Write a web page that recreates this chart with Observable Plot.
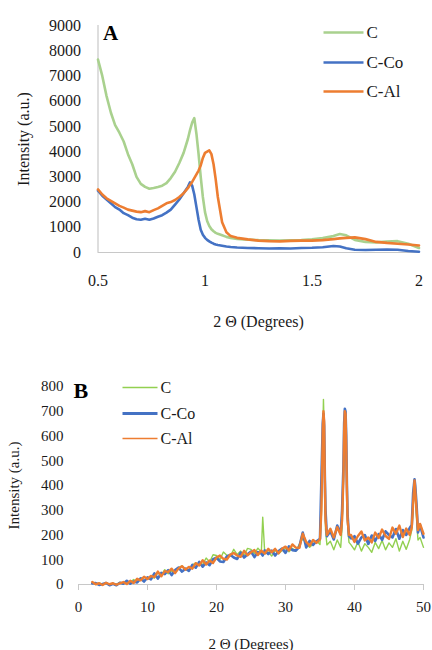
<!DOCTYPE html>
<html><head><meta charset="utf-8">
<script src="https://cdn.jsdelivr.net/npm/d3@7"></script>
<script src="https://cdn.jsdelivr.net/npm/@observablehq/plot@0.6"></script>
<style>
html,body{margin:0;padding:0;background:#fff;}
#wrap{position:relative;width:432px;height:650px;overflow:hidden;}
#wrap svg{display:block;}
#wrap svg, #wrap svg text{font-family:"Liberation Serif","Times New Roman",serif !important;}
</style></head><body><div id="wrap"></div>
<script>
// ---------- Series names ----------
const seriesNames = ["C", "C-Co", "C-Al"];

// ---------- Panel A (small-angle) ----------
const aX = [0.50,0.52,0.54,0.56,0.58,0.60,0.62,0.64,0.66,0.68,0.70,0.72,0.74,0.76,0.78,0.80,0.82,0.84,0.86,0.88,0.90,0.92,0.93,0.94,0.95,0.96,0.97,0.98,0.99,1.00,1.01,1.02,1.03,1.04,1.05,1.06,1.08,1.10,1.12,1.15,1.20,1.25,1.30,1.35,1.40,1.45,1.50,1.55,1.60,1.63,1.66,1.70,1.75,1.80,1.85,1.90,1.95,2.00];
const aC = [7650,7000,6200,5550,5050,4750,4400,3900,3500,3000,2720,2600,2530,2560,2600,2650,2750,2950,3200,3550,3950,4500,4850,5150,5330,4700,3900,3000,2200,1600,1250,1050,920,840,780,740,680,620,580,540,510,490,480,470,480,490,520,570,650,730,680,500,420,400,430,450,350,180];
const aCCo = [2450,2250,2100,1950,1800,1700,1560,1480,1380,1320,1300,1340,1300,1350,1420,1480,1580,1700,1900,2100,2350,2600,2780,2650,2300,1800,1300,900,700,580,500,440,390,350,320,300,270,240,220,200,180,170,160,170,160,180,190,210,260,240,170,110,100,110,120,110,60,30];
const aCAl = [2500,2300,2150,2050,1950,1850,1780,1700,1660,1620,1600,1640,1600,1680,1750,1850,1950,2000,2080,2200,2350,2550,2680,2800,2950,3100,3250,3450,3750,3950,4000,4050,3900,3500,2900,2200,1200,800,650,580,520,470,450,440,460,470,470,490,530,560,580,600,530,420,380,350,320,280];
const aXTicks = [0.5, 1, 1.5, 2];
const aYTicks = [0,1000,2000,3000,4000,5000,6000,7000,8000,9000];

// ---------- Panel B (wide-angle) ----------
const bX = [2,2.5,3,3.5,4,4.5,5,5.5,6,6.5,7,7.5,8,8.5,9,9.5,10,10.5,11,11.5,12,12.5,13,13.5,14,14.5,15,15.5,16,16.5,17,17.5,18,18.5,19,19.5,20,20.5,21,21.5,22,22.5,23,23.5,24,24.5,25,25.5,26,26.5,26.7,27,27.5,28,28.5,29,29.5,30,30.5,31,31.5,32,32.5,33,33.5,34,34.5,35,
  35.2,35.4,35.5,35.6,35.7,35.8,36,
  36.5,37,37.5,38,38.2,
  38.4,38.5,38.6,38.7,38.8,38.9,39,39.2,
  39.5,40,40.5,41,41.5,42,42.5,43,43.5,44,44.5,45,45.5,46,46.5,47,47.5,48,
  48.3,48.5,48.7,48.8,49,49.2,
  49.5,50];
const bC = [8,0,6,0,6,0,3,1,9,2,12,10,20,9,23,31,23,33,26,48,39,60,43,58,47,68,75,61,58,79,87,79,81,107,91,120,117,100,131,118,114,142,121,135,117,146,142,125,147,131,272,124,132,115,138,124,137,145,132,146,135,162,185,164,150,164,177,162,
  280,600,748,640,380,220,160,
  175,140,180,150,230,
  420,600,690,680,540,360,240,170,
  160,140,172,135,165,150,130,170,145,178,140,168,150,185,135,175,142,182,
  220,310,400,360,260,180,
  190,150];
const bCCo = [4,6,-2,2,6,-3,3,-3,7,3,15,3,12,8,25,12,29,21,45,24,47,42,58,38,58,68,52,64,55,79,68,91,72,89,78,102,108,93,91,113,120,109,103,129,109,122,133,111,131,125,117,138,123,137,117,135,145,128,154,139,137,152,210,150,176,160,175,185,
  420,650,690,640,440,300,195,
  215,182,238,205,300,
  480,650,710,700,600,400,280,195,
  186,195,165,190,200,164,198,176,204,180,215,200,190,224,185,220,200,228,
  240,370,425,400,320,210,
  240,190];
const bCAl = [10,1,5,-2,7,1,5,-1,5,10,2,15,6,23,17,31,22,35,30,52,33,54,50,64,46,65,74,60,71,64,86,77,98,81,97,87,109,117,104,101,121,127,117,112,136,118,130,139,119,137,131,125,144,130,144,126,144,153,138,162,149,148,205,172,157,180,168,182,
  300,620,700,660,420,260,200,
  225,190,232,200,260,
  440,620,700,690,560,380,260,200,
  200,172,196,214,178,190,170,210,188,222,196,184,230,205,238,192,226,200,
  230,330,420,380,300,220,
  245,205];
const bXTicks = [0,10,20,30,40,50];
const bYTicks = [0,100,200,300,400,500,600,700,800];

// ---------- build ----------
for (const [nm, xs, ys] of [["aC",aX,aC],["aCCo",aX,aCCo],["aCAl",aX,aCAl],["bC",bX,bC],["bCCo",bX,bCCo],["bCAl",bX,bCAl]]) {
  if (xs.length !== ys.length) console.error("length mismatch", nm, xs.length, ys.length);
}
const rows = (xs, ys, s) => xs.map((x, i) => ({x, y: ys[i], s}));
const dataA = [...rows(aX, aC, "C"), ...rows(aX, aCCo, "C-Co"), ...rows(aX, aCAl, "C-Al")];
const dataB = [...rows(bX, bC, "C"), ...rows(bX, bCCo, "C-Co"), ...rows(bX, bCAl, "C-Al")];

const FONT = '"Liberation Serif","Times New Roman",serif';
const colorsA = ["#A9D18E", "#4472C4", "#ED7D31"];
const colorsB = ["#92D050", "#4472C4", "#ED7D31"];
const TXT = "#1a1a1a";
const AXC = "#c8c8c8";

const lineSym = {draw(ctx, size) { const r = Math.sqrt(size / Math.PI); ctx.moveTo(-r, 0); ctx.lineTo(r, 0); }};

function legend(colors, widths, lineDx, half, textDx, dys, fontSize) {
  return seriesNames.flatMap((n, i) => [
    Plot.dot([n], {frameAnchor: "top-left", dx: lineDx, dy: dys[i], symbol: lineSym, r: half, stroke: colors[i], strokeWidth: widths[i], fill: "none"}),
    Plot.text([n], {frameAnchor: "top-left", dx: textDx, dy: dys[i], text: d => d, textAnchor: "start", lineAnchor: "middle", fontSize, fill: TXT})
  ]);
}

const plotA = Plot.plot({
  width: 432, height: 330,
  marginLeft: 97.5, marginRight: 13.5, marginTop: 25, marginBottom: 78,
  style: {fontFamily: FONT, fontSize: "16px", color: TXT, background: "transparent", overflow: "visible"},
  x: {domain: [0.5, 2]},
  y: {domain: [0, 9000]},
  color: {domain: seriesNames, range: colorsA},
  marks: [
    Plot.axisX({ticks: aXTicks, tickFormat: d => String(d), tickSize: 0, tickPadding: 22, fill: TXT, label: "2 Θ (Degrees)", labelAnchor: "center", labelOffset: 74, labelArrow: "none"}),
    Plot.axisY({ticks: aYTicks, tickFormat: d => String(d), tickSize: 0, tickPadding: 17, fill: TXT, label: "Intensity (a.u.)", labelAnchor: "center", labelOffset: 80, labelArrow: "none"}),
    Plot.ruleY([0], {stroke: AXC, strokeWidth: 1.2}),
    Plot.ruleX([0.5], {stroke: AXC, strokeWidth: 1.2}),
    Plot.line(dataA, {x: "x", y: "y", z: "s", stroke: "s", strokeWidth: 2.6, strokeLinejoin: "round"}),
    Plot.text(["A"], {frameAnchor: "top-left", dx: 5, dy: 8, text: d => d, textAnchor: "start", lineAnchor: "middle", fontSize: 21, fontWeight: "bold", fill: "#000"}),
    ...legend(colorsA, [2.6, 2.6, 2.6], 245.5, 20, 268.5, [7, 37, 66], 17)
  ]
});

const plotB = Plot.plot({
  width: 432, height: 320,
  marginLeft: 78, marginRight: 9, marginTop: 56, marginBottom: 66,
  style: {fontFamily: FONT, fontSize: "15px", color: TXT, background: "transparent", overflow: "visible"},
  x: {domain: [0, 50]},
  y: {domain: [0, 800]},
  color: {domain: seriesNames, range: colorsB},
  marks: [
    Plot.axisX({ticks: bXTicks, tickFormat: d => String(d), tickSize: 6, tickPadding: 11, stroke: AXC, fill: TXT, label: "2 Θ (Degrees)", labelAnchor: "center", labelOffset: 64, labelArrow: "none"}),
    Plot.axisY({ticks: bYTicks, tickFormat: d => String(d), tickSize: 0, tickPadding: 15, fill: TXT, label: "Intensity (a.u.)", labelAnchor: "center", labelOffset: 70, labelArrow: "none"}),
    Plot.ruleY([0], {stroke: AXC, strokeWidth: 1.2}),
    Plot.line(dataB.filter(d => d.s === "C"), {x: "x", y: "y", stroke: "s", strokeWidth: 1.4, strokeLinejoin: "round"}),
    Plot.line(dataB.filter(d => d.s === "C-Co"), {x: "x", y: "y", stroke: "s", strokeWidth: 2.6, strokeLinejoin: "round"}),
    Plot.line(dataB.filter(d => d.s === "C-Al"), {x: "x", y: "y", stroke: "s", strokeWidth: 2.4, strokeLinejoin: "round"}),
    Plot.text(["B"], {frameAnchor: "top-left", dx: -5, dy: 4, text: d => d, textAnchor: "start", lineAnchor: "middle", fontSize: 22, fontWeight: "bold", fill: "#000"}),
    ...legend(colorsB, [1.3, 3, 1.5], 61.5, 17.5, 82, [1, 27, 52], 16)
  ]
});

const wrap = document.getElementById("wrap");
wrap.appendChild(plotA);
wrap.appendChild(plotB);
</script>
</body></html>
